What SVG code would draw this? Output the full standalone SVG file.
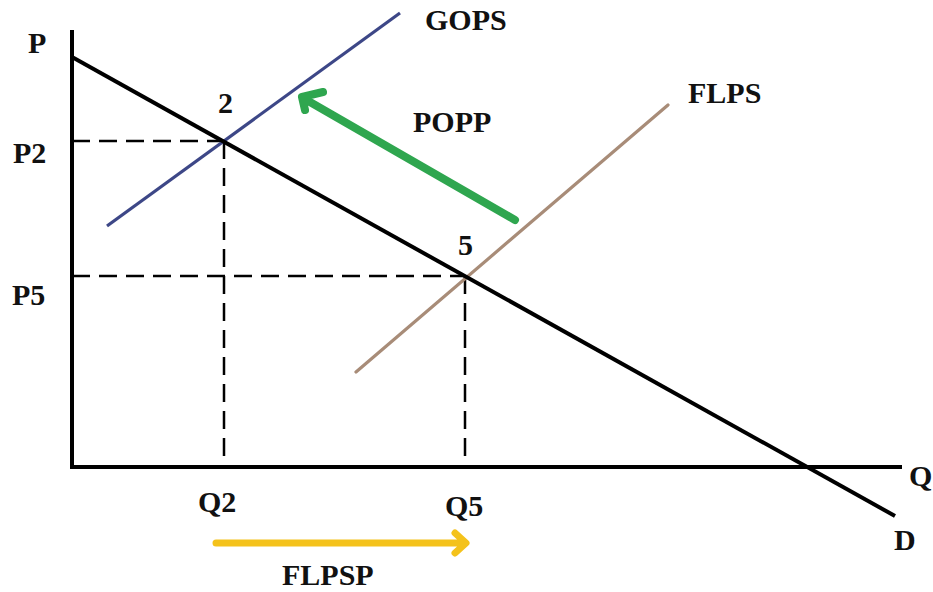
<svg xmlns="http://www.w3.org/2000/svg" width="933" height="592" viewBox="0 0 933 592">
<style>
.t{font-family:"Liberation Serif","Times New Roman",serif;font-weight:bold;font-size:30px;fill:#111}
.ax{stroke:#000;stroke-width:4;fill:none}
.dash{stroke:#000;stroke-width:2.5;stroke-dasharray:18 9;fill:none}
</style>
<rect width="933" height="592" fill="#fff"/>
<g id="connectors">
<line class="ax" x1="72" y1="30" x2="72" y2="469"/>
<line class="ax" x1="70" y1="467" x2="902" y2="467"/>
<line class="dash" x1="72" y1="141" x2="224" y2="141"/>
<line class="dash" x1="224" y1="141" x2="224" y2="467"/>
<line class="dash" x1="72" y1="276" x2="465" y2="276"/>
<line class="dash" x1="465" y1="276" x2="465" y2="467"/>
<line x1="107" y1="226" x2="400" y2="13" stroke="#3d4787" stroke-width="3.2"/>
<line x1="356" y1="372" x2="668" y2="105" stroke="#a88c78" stroke-width="3.2" stroke-linecap="round"/>
<line class="ax" x1="72" y1="57" x2="895" y2="516"/>
<path d="M515 220 L303 98 M323 92 L302 97 L305 110" stroke="#2fa64f" stroke-width="8" fill="none" stroke-linecap="round" stroke-linejoin="round"/>
<path d="M216 543 L465 543 M455 533 L466 543 L455 553" stroke="#f4c21b" stroke-width="7" fill="none" stroke-linecap="round" stroke-linejoin="round"/>
</g>
<g id="label-P"><text class="t" x="28" y="53">P</text></g>
<g id="label-P2"><text class="t" x="13" y="163">P2</text></g>
<g id="label-P5"><text class="t" x="12" y="305">P5</text></g>
<g id="label-2"><text class="t" x="218" y="113">2</text></g>
<g id="label-5"><text class="t" x="458" y="255">5</text></g>
<g id="label-GOPS"><text class="t" x="425" y="30">GOPS</text></g>
<g id="label-POPP"><text class="t" x="413" y="132">POPP</text></g>
<g id="label-FLPS"><text class="t" x="688" y="103">FLPS</text></g>
<g id="label-Q2"><text class="t" x="198" y="512">Q2</text></g>
<g id="label-Q5"><text class="t" x="445" y="516">Q5</text></g>
<g id="label-Q"><text class="t" x="909" y="486">Q</text></g>
<g id="label-D"><text class="t" x="894" y="550">D</text></g>
<g id="label-FLPSP"><text class="t" x="282" y="585">FLPSP</text></g>
</svg>
